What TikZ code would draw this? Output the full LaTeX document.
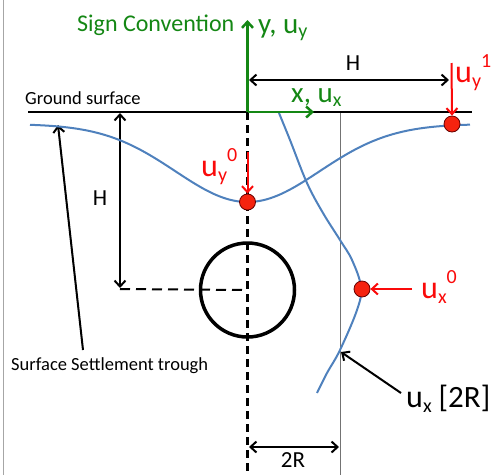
\documentclass[tikz,border=0pt]{standalone}
\usepackage{fontspec}
\setmainfont{Carlito}
\usetikzlibrary{arrows.meta}
\definecolor{sgreen}{RGB}{20,135,20}
\definecolor{sred}{RGB}{250,10,10}
\definecolor{cfill}{RGB}{245,35,15}
\definecolor{sblue}{RGB}{79,129,189}
\newcommand{\RedLab}[2]{{\fontsize{32}{32}\selectfont u}\raisebox{-5pt}{\fontsize{20}{20}\selectfont #1}\raisebox{15pt}{\fontsize{20}{20}\selectfont #2}}
\newcommand{\GrnLab}[1]{#1, u\raisebox{-4pt}{\fontsize{20}{20}\selectfont #1}}
\begin{document}
\begin{tikzpicture}[x=1pt,y=-1pt,
  >={Straight Barb[length=6pt,width=11pt]},
  blk/.style={line width=2pt},
  redarr/.style={line width=2pt, draw=sred, ->},
  grnarr/.style={line width=2.5pt, draw=sgreen, ->},
  bluecurve/.style={line width=2pt, draw=sblue},
  dot/.style={circle, fill=cfill, draw=black!60!red, line width=0.8pt, minimum size=16pt, inner sep=0pt},
  lab/.style={anchor=base west, inner sep=0pt},
  small/.style={font=\fontsize{18.5}{18.5}\selectfont, inner sep=0pt},
  dimlab/.style={font=\fontsize{23}{23}\selectfont, inner sep=0pt, anchor=base}
]
\useasboundingbox (0,0) rectangle (495,475);
% coordinates
\coordinate (BT) at (3.5,0); \coordinate (BB) at (3.5,475);
\coordinate (GL) at (28,112); \coordinate (GR) at (472,112);
\coordinate (O) at (247.5,112);
\coordinate (Ytip) at (247.5,20); \coordinate (Xtip) at (314,112);
\coordinate (DB) at (247.5,475);
\coordinate (VT) at (340,112); \coordinate (VB) at (340,475);
\coordinate (HT) at (120,113); \coordinate (HB) at (120,288);
\coordinate (HL) at (120,289);
\coordinate (HTL) at (249,80); \coordinate (HTR) at (449,80);
\coordinate (RL) at (249,447); \coordinate (RR) at (339,447);
\coordinate (S1) at (83,350); \coordinate (S2) at (58,125);
\coordinate (Q1) at (401,393); \coordinate (Q2) at (341,352);
\coordinate (a0) at (247.5,152); \coordinate (a1) at (451.5,63); \coordinate (a2) at (412,289);

% frame line
\draw[line width=1.5pt, black!35] (BT) -- (BB);
% thin reference line at 2R
\draw[line width=1pt, black!55] (VT) -- (VB);
% vertical dashed centre line
\draw[line width=2.5pt, dash pattern=on 8pt off 5pt] (O) -- (DB);
% tunnel
\node[circle, draw, line width=3.5pt, minimum size=94pt, inner sep=0pt] (tun) at (247.5,290) {};
\draw[line width=2pt, dash pattern=on 10pt off 6pt] (HL) -- (tun.center);
% ground line
\draw[line width=2.5pt] (GL) -- (GR);
% dimension arrows
\draw[blk, <->] (HT) -- (HB);
\draw[blk, <->] (HTL) -- (HTR);
\draw[blk, <->] (RL) -- (RR);
\draw[blk, ->] (S1) -- (S2);
\draw[blk, ->] (Q1) -- (Q2);
% blue curves
\draw[bluecurve] plot[domain=30:470, samples=120] (\x,{124+78*exp(-0.5*((\x-247.5)/72)^2)});
\draw[bluecurve] plot[smooth, tension=0.6] coordinates {(279,113) (290,140) (307,183) (323,213) (340,240) (352,260) (361,287) (357,310) (340,350) (327,373) (317,393)};
% green axes
\draw[grnarr] (O) -- (Ytip);
\draw[grnarr] (O) -- (Xtip);
% red dots and arrows
\node[dot] (c0) at (247.5,202) {};
\node[dot] (c1) at (452,124) {};
\node[dot] (c2) at (362,289) {};
\draw[redarr] (a0) -- (c0.north);
\draw[redarr] (a1) -- (c1.north);
\draw[redarr] (a2) -- (c2.east);
% labels
\node[lab, text=sgreen, font=\fontsize{24}{24}\selectfont] (sc) at (77,31) {Sign Convention};
\node[lab, text=sgreen, font=\fontsize{29}{29}\selectfont] (ylab) at (258,33) {\GrnLab{y}};
\node[lab, text=sgreen, font=\fontsize{29}{29}\selectfont] (xlab) at (291,102) {\GrnLab{x}};
\node[lab, text=sred] (luy0) at (201,176) {\RedLab{y}{0}};
\node[lab, text=sred] (luy1) at (455,82) {\RedLab{y}{1}};
\node[lab, text=sred] (lux0) at (421,298) {\RedLab{x}{0}};
\node[lab] (lux2) at (406,407) {{\fontsize{32}{32}\selectfont u}\raisebox{-5pt}{\fontsize{20}{20}\selectfont x}{\fontsize{31}{31}\selectfont\ [2R]}};
\node[lab, small] (gs) at (25,104) {Ground surface};
\node[lab, small] (sst) at (11,370) {Surface Settlement trough};
\node[dimlab] (h1) at (100,205) {H};
\node[dimlab] (h2) at (353,70) {H};
\node[dimlab] (r2) at (293,467) {2R};
\end{tikzpicture}
\end{document}
